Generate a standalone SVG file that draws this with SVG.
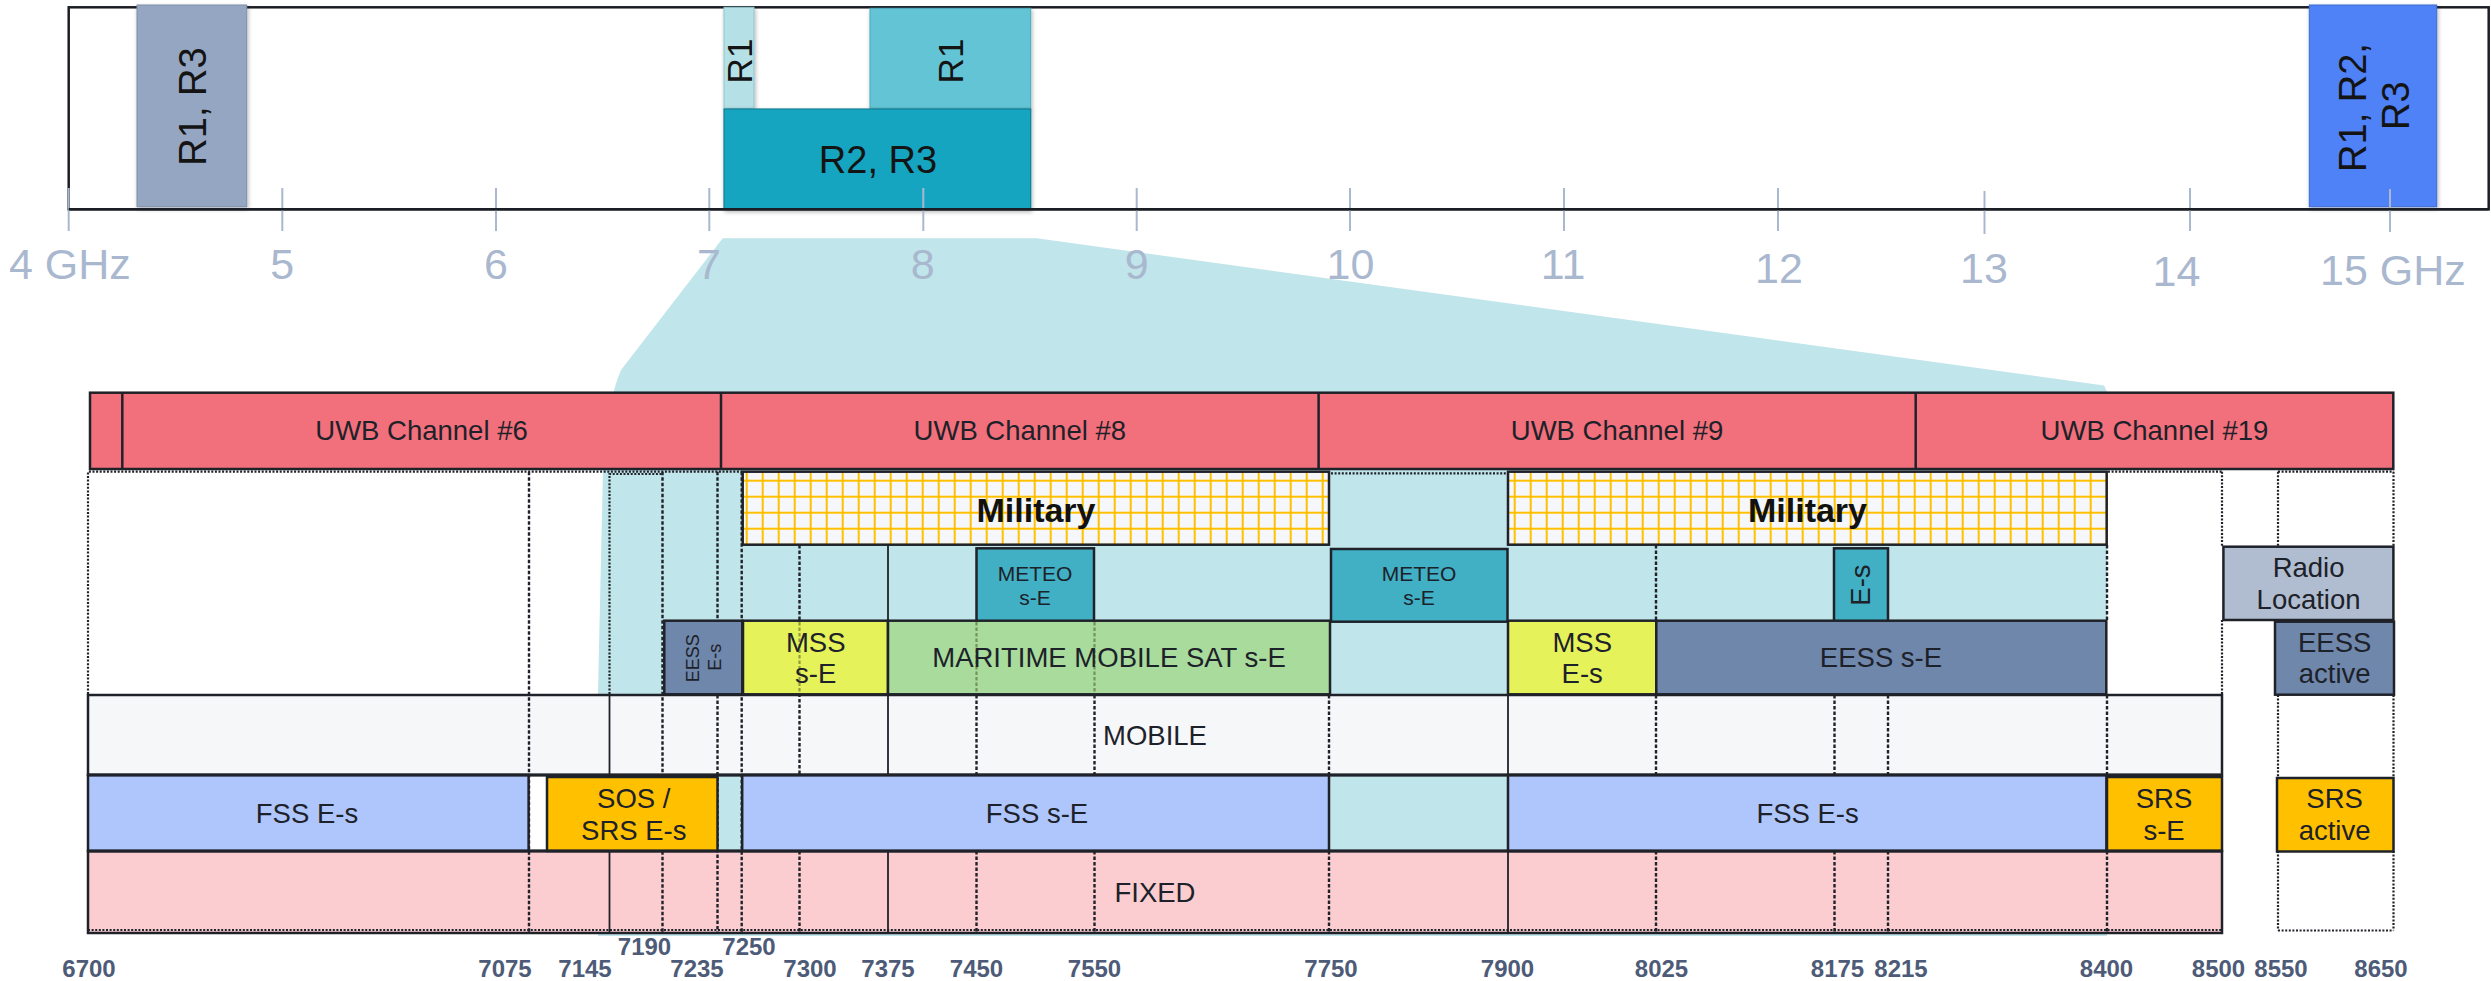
<svg xmlns="http://www.w3.org/2000/svg" width="2491" height="981" viewBox="0 0 2491 981">
<style>
.bx{stroke:#1f2229;stroke-width:2.5}
.ln{stroke:#1f2229;stroke-width:2.4;stroke-dasharray:3.5 2;fill:none}
.dt{stroke:#1f2229;stroke-width:2.2;stroke-dasharray:2 1.6;fill:none}
.sl{stroke:#1f2229;stroke-width:1.8;fill:none}
.fa{stroke:#4a5a2a;stroke-width:2.2;stroke-dasharray:3.5 2;fill:none;opacity:0.55}
.t{font-family:"Liberation Sans",Arial,sans-serif;font-size:27.5px;fill:#1d2129;text-anchor:middle}
.sm{font-size:21px}
.xs{font-size:18px}
.mil{font-size:34px;font-weight:bold;fill:#111}
.ax{font-family:"Liberation Sans",Arial,sans-serif;font-size:24px;font-weight:bold;fill:#4d5b78;text-anchor:middle}
.gh{font-family:"Liberation Sans",Arial,sans-serif;font-size:43px;fill:#a9b8cf;text-anchor:middle}
.rl{font-family:"Liberation Sans",Arial,sans-serif;font-size:38px;fill:#141414;text-anchor:middle}
.tick{stroke:#a9b8cf;stroke-width:2}
</style>
<defs>
<pattern id="grid" patternUnits="userSpaceOnUse" x="745.7" y="479.7" width="16" height="16">
<rect width="16" height="16" fill="#f5f7fa"/>
<rect width="2" height="16" fill="#ffc000"/>
<rect width="16" height="2" fill="#ffc000"/>
</pattern>
<filter id="sh" x="-10%" y="-10%" width="130%" height="130%">
<feDropShadow dx="1" dy="2" stdDeviation="2" flood-color="#000" flood-opacity="0.3"/>
</filter>
</defs>
<rect width="2491" height="981" fill="#ffffff"/>

<!-- zoom wedge -->
<path id="wedge" d="M722.7,238.3 L1036.7,238.3 L2104,385.5 L2107,392 L2107,936 L598,936 L598,693 L603,470 Q607,402 621,370 Z" fill="#c0e5ea"/>

<!-- top overview band -->
<g id="overview">
<rect x="68.7" y="7.3" width="2420" height="202" fill="none" stroke="#1b1e25" stroke-width="2.5"/>
<g id="band-r1r3">
<rect x="137" y="5" width="109.7" height="201.7" fill="#94a6c1" stroke="#7f8fa8" stroke-width="1" filter="url(#sh)"/>
<text class="rl" transform="translate(205.5,106.5) rotate(-90)">R1, R3</text>
</g>
<g id="band-r1a">
<rect x="724" y="7.3" width="30" height="101" fill="#b5e0e6" stroke="#8fc5cc" stroke-width="1" filter="url(#sh)"/>
<text class="rl" style="font-size:35px" transform="translate(751.5,61) rotate(-90)">R1</text>
</g>
<g id="band-r1b">
<rect x="870" y="8.3" width="160.7" height="100" fill="#62c4d4" stroke="#4aa9b8" stroke-width="1" filter="url(#sh)"/>
<text class="rl" style="font-size:35px" transform="translate(962.5,61) rotate(-90)">R1</text>
</g>
<g id="band-r2r3">
<rect x="724" y="109" width="306.7" height="100.3" fill="#15a5c0" stroke="#117f94" stroke-width="1.2" filter="url(#sh)"/>
<text class="rl" x="878" y="173.3">R2, R3</text>
</g>
<g id="band-r1r2r3">
<rect x="2309.3" y="5" width="127.4" height="201.7" fill="#4f81f7" stroke="#3f6bd0" stroke-width="1" filter="url(#sh)"/>
<text class="rl" transform="translate(2365.7,107.5) rotate(-90)">R1, R2,</text>
<text class="rl" transform="translate(2409.3,105.7) rotate(-90)">R3</text>
</g>
<g id="ticks">
<line class="tick" x1="68.7" y1="188" x2="68.7" y2="231"/>
<line class="tick" x1="282.3" y1="188" x2="282.3" y2="231"/>
<line class="tick" x1="496" y1="188" x2="496" y2="231"/>
<line class="tick" x1="709.3" y1="188" x2="709.3" y2="231"/>
<line class="tick" x1="923.3" y1="188" x2="923.3" y2="231"/>
<line class="tick" x1="1136.7" y1="188" x2="1136.7" y2="231"/>
<line class="tick" x1="1350" y1="188" x2="1350" y2="231"/>
<line class="tick" x1="1564" y1="188" x2="1564" y2="231"/>
<line class="tick" x1="1778" y1="188" x2="1778" y2="231"/>
<line class="tick" x1="1984.5" y1="191" x2="1984.5" y2="234"/>
<line class="tick" x1="2190" y1="188" x2="2190" y2="231"/>
<line class="tick" x1="2390" y1="189" x2="2390" y2="232"/>
</g>
<line x1="68.7" y1="209.3" x2="2488.7" y2="209.3" stroke="#1b1e25" stroke-width="2.5"/>
<g id="ghz-labels">
<text class="gh" x="9" y="279.3" style="text-anchor:start">4 GHz</text>
<text class="gh" x="282.3" y="279.3">5</text>
<text class="gh" x="496" y="279.3">6</text>
<text class="gh" x="709" y="279.3">7</text>
<text class="gh" x="922.7" y="279.3">8</text>
<text class="gh" x="1136.7" y="279.3">9</text>
<text class="gh" x="1350.5" y="279.3">10</text>
<text class="gh" x="1563" y="279.3">11</text>
<text class="gh" x="1779" y="283.3">12</text>
<text class="gh" x="1984" y="283.3">13</text>
<text class="gh" x="2176.5" y="285.7">14</text>
<text class="gh" x="2320" y="285" style="text-anchor:start">15 GHz</text>
</g>
</g>

<!-- UWB channels row -->
<g id="uwb">
<rect class="bx" x="90" y="392.7" width="2303.3" height="76.3" fill="#f2707b"/>
<line class="bx" x1="122.3" y1="392.7" x2="122.3" y2="469"/>
<line class="bx" x1="721" y1="392.7" x2="721" y2="469"/>
<line class="bx" x1="1318.6" y1="392.7" x2="1318.6" y2="469"/>
<line class="bx" x1="1915.7" y1="392.7" x2="1915.7" y2="469"/>
<text class="t" x="421.5" y="440">UWB Channel #6</text>
<text class="t" x="1019.8" y="440">UWB Channel #8</text>
<text class="t" x="1617" y="440">UWB Channel #9</text>
<text class="t" x="2154.5" y="440">UWB Channel #19</text>
</g>

<!-- lower rows (fills) -->
<g id="mobile">
<rect class="bx" x="88" y="695" width="2134" height="80" fill="#f6f7f9"/>
</g>
<g id="fixed">
<rect class="bx" x="88" y="851" width="2134" height="82" fill="#fbcdd0"/>
<line class="dt" x1="88" y1="930" x2="2222" y2="930"/>
</g>

<!-- connectors: frequency boundary lines -->
<g id="boundaries">
<path class="dt" d="M88,694 V471.7 H742"/>
<path class="dt" d="M609.5,694 V474 H662.5"/>
<path class="dt" d="M1331,473.3 H1506.5"/>
<path class="dt" d="M2108,471.7 H2222 M2278,471.7 H2393.5"/>
<path class="dt" d="M2222,471.7 V547 M2222,620 V695"/>
<path class="dt" d="M2278,471.7 V547 M2278,695 V778 M2278,851 V930.5"/>
<path class="dt" d="M2393.5,471.7 V547 M2393.5,695 V778 M2393.5,851 V930.5 M2278,930.5 H2393.5"/>
<line class="ln" x1="529" y1="471.7" x2="529" y2="932"/>
<line class="ln" x1="662.5" y1="471.7" x2="662.5" y2="932"/>
<line class="ln" x1="717.5" y1="471.7" x2="717.5" y2="620"/>
<line class="ln" x1="717.5" y1="695" x2="717.5" y2="932"/>
<line class="ln" x1="741.7" y1="471.7" x2="741.7" y2="932"/>
<line class="ln" x1="799.5" y1="545" x2="799.5" y2="775"/>
<line class="ln" x1="799.5" y1="851" x2="799.5" y2="932"/>
<line class="sl" x1="609.5" y1="695" x2="609.5" y2="775"/>
<line class="sl" x1="609.5" y1="851" x2="609.5" y2="932"/>
<line class="sl" x1="888" y1="545" x2="888" y2="775"/>
<line class="sl" x1="888" y1="851" x2="888" y2="932"/>
<path class="ln" d="M976.5,695 V775 M976.5,851 V932 M1094.5,695 V775 M1094.5,851 V932"/>
<path class="ln" d="M1329,695 V775 M1329,851 V932 M1656,545 V620 M1656,695 V775 M1656,851 V932"/>
<path class="sl" d="M1508,695 V775 M1508,851 V932"/>
<path class="ln" d="M1834.5,695 V775 M1834.5,851 V932 M1888,695 V775 M1888,851 V932"/>
<path class="ln" d="M2107,545 V620 M2107,695 V775 M2107,851 V932"/>
</g>

<!-- labelled allocations -->
<g id="military-1">
<rect class="bx" x="742.7" y="471.7" width="586.3" height="73" fill="url(#grid)"/>
<text class="t mil" x="1036" y="521.7">Military</text>
</g>
<g id="military-2">
<rect class="bx" x="1508" y="471.7" width="598.7" height="73" fill="url(#grid)"/>
<text class="t mil" x="1807.5" y="521.7">Military</text>
</g>
<g id="meteo-1">
<rect class="bx" x="976.5" y="548.3" width="117.5" height="73.4" fill="#41b0c4"/>
<text class="t sm" x="1035" y="580.7">METEO</text>
<text class="t sm" x="1035" y="605">s-E</text>
</g>
<g id="meteo-2">
<rect class="bx" x="1331" y="549" width="176.5" height="72.7" fill="#41b0c4"/>
<text class="t sm" x="1419" y="580.7">METEO</text>
<text class="t sm" x="1419" y="605">s-E</text>
</g>
<g id="es-small">
<rect class="bx" x="1834" y="548.3" width="54" height="73.4" fill="#41b0c4"/>
<text class="t" transform="translate(1870,585) rotate(-90)">E-s</text>
</g>
<g id="radio-location">
<rect class="bx" x="2223.4" y="546.7" width="170" height="73.3" fill="#b0bccf"/>
<text class="t" x="2308.6" y="576.7">Radio</text>
<text class="t" x="2308.6" y="609.3">Location</text>
</g>
<g id="eess-es">
<rect class="bx" x="664.3" y="620.7" width="78" height="73.6" fill="#6f87ab"/>
<text class="t xs" transform="translate(699.3,658.3) rotate(-90)">EESS</text>
<text class="t xs" transform="translate(721,657.3) rotate(-90)">E-s</text>
</g>
<g id="mss-se">
<rect class="bx" x="743" y="620.7" width="145" height="73.6" fill="#e5f25a"/>
<line class="fa" x1="799.5" y1="622" x2="799.5" y2="693"/>
<text class="t" x="815.7" y="651.7">MSS</text>
<text class="t" x="815.7" y="682.7">s-E</text>
</g>
<g id="maritime">
<rect class="bx" x="888" y="620.7" width="442" height="73.6" fill="#a8db9c"/>
<path class="fa" d="M976.5,622 V693 M1094.5,622 V693"/>
<text class="t" x="1109" y="666.7">MARITIME MOBILE SAT s-E</text>
</g>
<g id="mss-es">
<rect class="bx" x="1508" y="620.7" width="148.3" height="73.6" fill="#e5f25a"/>
<text class="t" x="1582.2" y="651.7">MSS</text>
<text class="t" x="1582.2" y="683.3">E-s</text>
</g>
<g id="eess-se">
<rect class="bx" x="1656.3" y="620.7" width="450" height="73.6" fill="#6f87ab"/>
<text class="t" x="1881" y="666.7">EESS s-E</text>
</g>
<g id="eess-active">
<rect class="bx" x="2275" y="621.7" width="119" height="73" fill="#6f87ab"/>
<text class="t" x="2334.7" y="651.7">EESS</text>
<text class="t" x="2334.7" y="683.3">active</text>
</g>
<text class="t" x="1155" y="745">MOBILE</text>
<g id="fss-es-1">
<rect class="bx" x="88" y="775" width="440.6" height="76" fill="#afc6fc"/>
<text class="t" x="307" y="823.3">FSS E-s</text>
</g>
<g id="sos-srs">
<rect class="bx" x="547" y="777" width="170.5" height="74" fill="#ffc000"/>
<text class="t" x="633.8" y="808.3">SOS /</text>
<text class="t" x="633.8" y="840">SRS E-s</text>
</g>
<g id="fss-se">
<rect class="bx" x="742.2" y="775" width="586.8" height="76" fill="#afc6fc"/>
<text class="t" x="1037" y="823.3">FSS s-E</text>
</g>
<g id="fss-es-2">
<rect class="bx" x="1508" y="775" width="598.4" height="76" fill="#afc6fc"/>
<text class="t" x="1807.6" y="823.3">FSS E-s</text>
</g>
<g id="srs-se">
<rect class="bx" x="2107" y="777" width="115" height="74" fill="#ffc000"/>
<text class="t" x="2164" y="808.3">SRS</text>
<text class="t" x="2164" y="840">s-E</text>
</g>
<g id="srs-active">
<rect class="bx" x="2277" y="778" width="116.5" height="73.5" fill="#ffc000"/>
<text class="t" x="2334.6" y="808.3">SRS</text>
<text class="t" x="2334.6" y="840">active</text>
</g>
<line x1="88" y1="851" x2="2222" y2="851" stroke="#1f2229" stroke-width="3"/>
<line x1="88" y1="775" x2="2222" y2="775" stroke="#1f2229" stroke-width="3"/>
<text class="t" x="1155" y="901.7">FIXED</text>

<!-- MHz axis -->
<g id="mhz-labels">
<text class="ax" x="89" y="977.3">6700</text>
<text class="ax" x="505" y="977.3">7075</text>
<text class="ax" x="585" y="977.3">7145</text>
<text class="ax" x="644.5" y="955">7190</text>
<text class="ax" x="697" y="977.3">7235</text>
<text class="ax" x="749" y="955">7250</text>
<text class="ax" x="810" y="977.3">7300</text>
<text class="ax" x="888" y="977.3">7375</text>
<text class="ax" x="976.5" y="977.3">7450</text>
<text class="ax" x="1094.5" y="977.3">7550</text>
<text class="ax" x="1331" y="977.3">7750</text>
<text class="ax" x="1507.5" y="977.3">7900</text>
<text class="ax" x="1661.5" y="977.3">8025</text>
<text class="ax" x="1837.5" y="977.3">8175</text>
<text class="ax" x="1901" y="977.3">8215</text>
<text class="ax" x="2106.5" y="977.3">8400</text>
<text class="ax" x="2218.5" y="977.3">8500</text>
<text class="ax" x="2281" y="977.3">8550</text>
<text class="ax" x="2381" y="977.3">8650</text>
</g>
</svg>
